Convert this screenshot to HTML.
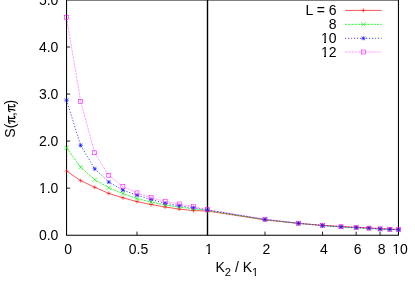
<!DOCTYPE html>
<html><head><meta charset="utf-8"><style>html,body{margin:0;padding:0;background:#fff;width:415px;height:291px;overflow:hidden}</style></head><body>
<svg width="415" height="291" viewBox="0 0 415 291" style="display:block;position:absolute;left:0;top:0;will-change:transform">
<rect width="415" height="291" fill="#fff"/>
<path d="M345 10.4H381.7" stroke="#ff0000" stroke-width="0.7" stroke-opacity="0.95" fill="none"/>
<path d="M361.40 10.40H365.40M363.40 8.40V12.40" stroke="#ff0000" stroke-width="0.6" fill="none"/>
<path d="M345 24.35H381.7" stroke="#00f000" stroke-width="0.85" stroke-opacity="0.9" fill="none" stroke-dasharray="2.3 0.9"/>
<path d="M361.10 22.05L365.70 26.65M361.10 26.65L365.70 22.05" stroke="#00f000" stroke-width="0.6" fill="none"/>
<path d="M345 38.3H381.7" stroke="#0000ff" stroke-width="0.95" stroke-opacity="0.75" fill="none" stroke-dasharray="1.2 1.8"/>
<path d="M361.60 36.50L365.20 40.10M361.60 40.10L365.20 36.50M361.30 38.30H365.50M363.40 36.20V40.40" stroke="#0000ff" stroke-width="0.6" fill="none"/>
<path d="M345 52.0H381.7" stroke="#ff00ff" stroke-width="0.9" stroke-opacity="0.42" fill="none" stroke-dasharray="2.4 0.9"/>
<rect x="361.40" y="50.00" width="4.00" height="4.00" stroke="#ff00ff" stroke-width="0.55" fill="none"/>
<path d="M66.55 188.15h3.6" stroke="#000" stroke-width="1" opacity="0.85"/>
<path d="M66.55 141.10h3.6" stroke="#000" stroke-width="1" opacity="0.85"/>
<path d="M66.55 94.05h3.6" stroke="#000" stroke-width="1" opacity="0.85"/>
<path d="M66.55 47.00h3.6" stroke="#000" stroke-width="1" opacity="0.85"/>
<path d="M136.98 235.2v-3.6" stroke="#000" stroke-width="1" opacity="0.85"/>
<path d="M264.96 235.2v-3.6" stroke="#000" stroke-width="1" opacity="0.85"/>
<path d="M322.51 235.2v-3.6" stroke="#000" stroke-width="1" opacity="0.85"/>
<path d="M356.18 235.2v-3.6" stroke="#000" stroke-width="1" opacity="0.85"/>
<path d="M380.07 235.2v-3.6" stroke="#000" stroke-width="1" opacity="0.85"/>
<path d="M66.55 0V235.2H398.45V0M66.55 -0.05H398.45" stroke="#000" stroke-width="1.05" fill="none" stroke-linecap="square"/>
<path d="M207.5 0V235.2" stroke="#000" stroke-width="1.4" fill="none"/>
<polyline points="66.55,171.00 80.64,180.60 94.72,187.30 108.81,193.40 122.89,197.80 136.98,201.60 151.06,204.50 165.15,207.00 179.23,209.10 193.32,210.60 207.40,211.00 264.96,219.90 298.63,223.45 322.51,225.35 341.04,226.47 356.18,227.27 368.98,227.87 380.07,228.57 389.85,228.97 398.60,229.32" fill="none" stroke="#ff0000" stroke-width="0.7" stroke-opacity="0.95"/>
<path d="M64.55 171.00H68.55M66.55 169.00V173.00" stroke="#ff0000" stroke-width="0.6" fill="none"/>
<path d="M78.64 180.60H82.64M80.64 178.60V182.60" stroke="#ff0000" stroke-width="0.6" fill="none"/>
<path d="M92.72 187.30H96.72M94.72 185.30V189.30" stroke="#ff0000" stroke-width="0.6" fill="none"/>
<path d="M106.81 193.40H110.81M108.81 191.40V195.40" stroke="#ff0000" stroke-width="0.6" fill="none"/>
<path d="M120.89 197.80H124.89M122.89 195.80V199.80" stroke="#ff0000" stroke-width="0.6" fill="none"/>
<path d="M134.98 201.60H138.98M136.98 199.60V203.60" stroke="#ff0000" stroke-width="0.6" fill="none"/>
<path d="M149.06 204.50H153.06M151.06 202.50V206.50" stroke="#ff0000" stroke-width="0.6" fill="none"/>
<path d="M163.15 207.00H167.15M165.15 205.00V209.00" stroke="#ff0000" stroke-width="0.6" fill="none"/>
<path d="M177.23 209.10H181.23M179.23 207.10V211.10" stroke="#ff0000" stroke-width="0.6" fill="none"/>
<path d="M191.32 210.60H195.32M193.32 208.60V212.60" stroke="#ff0000" stroke-width="0.6" fill="none"/>
<path d="M205.40 211.00H209.40M207.40 209.00V213.00" stroke="#ff0000" stroke-width="0.6" fill="none"/>
<path d="M262.96 219.90H266.96M264.96 217.90V221.90" stroke="#ff0000" stroke-width="0.6" fill="none"/>
<path d="M296.63 223.45H300.63M298.63 221.45V225.45" stroke="#ff0000" stroke-width="0.6" fill="none"/>
<path d="M320.51 225.35H324.51M322.51 223.35V227.35" stroke="#ff0000" stroke-width="0.6" fill="none"/>
<path d="M339.04 226.47H343.04M341.04 224.47V228.47" stroke="#ff0000" stroke-width="0.6" fill="none"/>
<path d="M354.18 227.27H358.18M356.18 225.27V229.27" stroke="#ff0000" stroke-width="0.6" fill="none"/>
<path d="M366.98 227.87H370.98M368.98 225.87V229.87" stroke="#ff0000" stroke-width="0.6" fill="none"/>
<path d="M378.07 228.57H382.07M380.07 226.57V230.57" stroke="#ff0000" stroke-width="0.6" fill="none"/>
<path d="M387.85 228.97H391.85M389.85 226.97V230.97" stroke="#ff0000" stroke-width="0.6" fill="none"/>
<path d="M396.60 229.32H400.60M398.60 227.32V231.32" stroke="#ff0000" stroke-width="0.6" fill="none"/>
<polyline points="66.55,147.80 80.64,167.20 94.72,179.70 108.81,187.70 122.89,193.60 136.98,198.60 151.06,202.00 165.15,205.00 179.23,207.00 193.32,208.90 207.40,210.40 264.96,219.60 298.63,223.40 322.51,225.65 341.04,227.13 356.18,227.93 368.98,228.53 380.07,229.23 389.85,229.63 398.60,229.98" fill="none" stroke="#00f000" stroke-width="0.85" stroke-opacity="0.9" stroke-dasharray="2.3 0.9"/>
<path d="M64.25 145.50L68.85 150.10M64.25 150.10L68.85 145.50" stroke="#00f000" stroke-width="0.6" fill="none"/>
<path d="M78.34 164.90L82.94 169.50M78.34 169.50L82.94 164.90" stroke="#00f000" stroke-width="0.6" fill="none"/>
<path d="M92.42 177.40L97.02 182.00M92.42 182.00L97.02 177.40" stroke="#00f000" stroke-width="0.6" fill="none"/>
<path d="M106.51 185.40L111.11 190.00M106.51 190.00L111.11 185.40" stroke="#00f000" stroke-width="0.6" fill="none"/>
<path d="M120.59 191.30L125.19 195.90M120.59 195.90L125.19 191.30" stroke="#00f000" stroke-width="0.6" fill="none"/>
<path d="M134.68 196.30L139.28 200.90M134.68 200.90L139.28 196.30" stroke="#00f000" stroke-width="0.6" fill="none"/>
<path d="M148.76 199.70L153.36 204.30M148.76 204.30L153.36 199.70" stroke="#00f000" stroke-width="0.6" fill="none"/>
<path d="M162.84 202.70L167.45 207.30M162.84 207.30L167.45 202.70" stroke="#00f000" stroke-width="0.6" fill="none"/>
<path d="M176.93 204.70L181.53 209.30M176.93 209.30L181.53 204.70" stroke="#00f000" stroke-width="0.6" fill="none"/>
<path d="M191.02 206.60L195.62 211.20M191.02 211.20L195.62 206.60" stroke="#00f000" stroke-width="0.6" fill="none"/>
<path d="M205.10 208.10L209.70 212.70M205.10 212.70L209.70 208.10" stroke="#00f000" stroke-width="0.6" fill="none"/>
<path d="M262.66 217.30L267.26 221.90M262.66 221.90L267.26 217.30" stroke="#00f000" stroke-width="0.6" fill="none"/>
<path d="M296.33 221.10L300.93 225.70M296.33 225.70L300.93 221.10" stroke="#00f000" stroke-width="0.6" fill="none"/>
<path d="M320.21 223.35L324.81 227.95M320.21 227.95L324.81 223.35" stroke="#00f000" stroke-width="0.6" fill="none"/>
<path d="M338.74 224.83L343.34 229.43M338.74 229.43L343.34 224.83" stroke="#00f000" stroke-width="0.6" fill="none"/>
<path d="M353.88 225.63L358.48 230.23M353.88 230.23L358.48 225.63" stroke="#00f000" stroke-width="0.6" fill="none"/>
<path d="M366.68 226.23L371.28 230.83M366.68 230.83L371.28 226.23" stroke="#00f000" stroke-width="0.6" fill="none"/>
<path d="M377.77 226.93L382.37 231.53M377.77 231.53L382.37 226.93" stroke="#00f000" stroke-width="0.6" fill="none"/>
<path d="M387.55 227.33L392.15 231.93M387.55 231.93L392.15 227.33" stroke="#00f000" stroke-width="0.6" fill="none"/>
<path d="M396.30 227.68L400.90 232.28M396.30 232.28L400.90 227.68" stroke="#00f000" stroke-width="0.6" fill="none"/>
<polyline points="66.55,100.20 80.64,145.40 94.72,168.80 108.81,182.10 122.89,190.10 136.98,195.20 151.06,199.50 165.15,203.20 179.23,205.70 193.32,207.80 207.40,210.00 264.96,219.40 298.63,223.30 322.51,225.50 341.04,226.80 356.18,227.60 368.98,228.20 380.07,228.90 389.85,229.30 398.60,229.65" fill="none" stroke="#0000ff" stroke-width="0.95" stroke-opacity="0.75" stroke-dasharray="1.2 1.8"/>
<path d="M64.75 98.40L68.35 102.00M64.75 102.00L68.35 98.40M64.45 100.20H68.65M66.55 98.10V102.30" stroke="#0000ff" stroke-width="0.6" fill="none"/>
<path d="M78.84 143.60L82.44 147.20M78.84 147.20L82.44 143.60M78.54 145.40H82.73M80.64 143.30V147.50" stroke="#0000ff" stroke-width="0.6" fill="none"/>
<path d="M92.92 167.00L96.52 170.60M92.92 170.60L96.52 167.00M92.62 168.80H96.82M94.72 166.70V170.90" stroke="#0000ff" stroke-width="0.6" fill="none"/>
<path d="M107.01 180.30L110.61 183.90M107.01 183.90L110.61 180.30M106.71 182.10H110.91M108.81 180.00V184.20" stroke="#0000ff" stroke-width="0.6" fill="none"/>
<path d="M121.09 188.30L124.69 191.90M121.09 191.90L124.69 188.30M120.79 190.10H124.99M122.89 188.00V192.20" stroke="#0000ff" stroke-width="0.6" fill="none"/>
<path d="M135.18 193.40L138.78 197.00M135.18 197.00L138.78 193.40M134.88 195.20H139.08M136.98 193.10V197.30" stroke="#0000ff" stroke-width="0.6" fill="none"/>
<path d="M149.26 197.70L152.86 201.30M149.26 201.30L152.86 197.70M148.96 199.50H153.16M151.06 197.40V201.60" stroke="#0000ff" stroke-width="0.6" fill="none"/>
<path d="M163.34 201.40L166.95 205.00M163.34 205.00L166.95 201.40M163.05 203.20H167.25M165.15 201.10V205.30" stroke="#0000ff" stroke-width="0.6" fill="none"/>
<path d="M177.43 203.90L181.03 207.50M177.43 207.50L181.03 203.90M177.13 205.70H181.33M179.23 203.60V207.80" stroke="#0000ff" stroke-width="0.6" fill="none"/>
<path d="M191.52 206.00L195.12 209.60M191.52 209.60L195.12 206.00M191.22 207.80H195.42M193.32 205.70V209.90" stroke="#0000ff" stroke-width="0.6" fill="none"/>
<path d="M205.60 208.20L209.20 211.80M205.60 211.80L209.20 208.20M205.30 210.00H209.50M207.40 207.90V212.10" stroke="#0000ff" stroke-width="0.6" fill="none"/>
<path d="M263.16 217.60L266.76 221.20M263.16 221.20L266.76 217.60M262.86 219.40H267.06M264.96 217.30V221.50" stroke="#0000ff" stroke-width="0.6" fill="none"/>
<path d="M296.83 221.50L300.43 225.10M296.83 225.10L300.43 221.50M296.53 223.30H300.73M298.63 221.20V225.40" stroke="#0000ff" stroke-width="0.6" fill="none"/>
<path d="M320.71 223.70L324.31 227.30M320.71 227.30L324.31 223.70M320.41 225.50H324.61M322.51 223.40V227.60" stroke="#0000ff" stroke-width="0.6" fill="none"/>
<path d="M339.24 225.00L342.84 228.60M339.24 228.60L342.84 225.00M338.94 226.80H343.14M341.04 224.70V228.90" stroke="#0000ff" stroke-width="0.6" fill="none"/>
<path d="M354.38 225.80L357.98 229.40M354.38 229.40L357.98 225.80M354.08 227.60H358.28M356.18 225.50V229.70" stroke="#0000ff" stroke-width="0.6" fill="none"/>
<path d="M367.18 226.40L370.78 230.00M367.18 230.00L370.78 226.40M366.88 228.20H371.08M368.98 226.10V230.30" stroke="#0000ff" stroke-width="0.6" fill="none"/>
<path d="M378.27 227.10L381.87 230.70M378.27 230.70L381.87 227.10M377.97 228.90H382.17M380.07 226.80V231.00" stroke="#0000ff" stroke-width="0.6" fill="none"/>
<path d="M388.05 227.50L391.65 231.10M388.05 231.10L391.65 227.50M387.75 229.30H391.95M389.85 227.20V231.40" stroke="#0000ff" stroke-width="0.6" fill="none"/>
<path d="M396.80 227.85L400.40 231.45M396.80 231.45L400.40 227.85M396.50 229.65H400.70M398.60 227.55V231.75" stroke="#0000ff" stroke-width="0.6" fill="none"/>
<polyline points="66.55,17.50 80.64,101.40 94.72,152.80 108.81,175.50 122.89,186.50 136.98,192.90 151.06,197.60 165.15,201.50 179.23,204.00 193.32,206.60 207.40,209.70 264.96,219.20 298.63,223.20 322.51,225.45 341.04,226.75 356.18,227.55 368.98,228.15 380.07,228.85 389.85,229.25 398.60,229.60" fill="none" stroke="#ff00ff" stroke-width="0.9" stroke-opacity="0.42" stroke-dasharray="2.4 0.9"/>
<rect x="64.55" y="15.50" width="4.00" height="4.00" stroke="#ff00ff" stroke-width="0.55" fill="none"/>
<rect x="78.64" y="99.40" width="4.00" height="4.00" stroke="#ff00ff" stroke-width="0.55" fill="none"/>
<rect x="92.72" y="150.80" width="4.00" height="4.00" stroke="#ff00ff" stroke-width="0.55" fill="none"/>
<rect x="106.81" y="173.50" width="4.00" height="4.00" stroke="#ff00ff" stroke-width="0.55" fill="none"/>
<rect x="120.89" y="184.50" width="4.00" height="4.00" stroke="#ff00ff" stroke-width="0.55" fill="none"/>
<rect x="134.98" y="190.90" width="4.00" height="4.00" stroke="#ff00ff" stroke-width="0.55" fill="none"/>
<rect x="149.06" y="195.60" width="4.00" height="4.00" stroke="#ff00ff" stroke-width="0.55" fill="none"/>
<rect x="163.15" y="199.50" width="4.00" height="4.00" stroke="#ff00ff" stroke-width="0.55" fill="none"/>
<rect x="177.23" y="202.00" width="4.00" height="4.00" stroke="#ff00ff" stroke-width="0.55" fill="none"/>
<rect x="191.32" y="204.60" width="4.00" height="4.00" stroke="#ff00ff" stroke-width="0.55" fill="none"/>
<rect x="205.40" y="207.70" width="4.00" height="4.00" stroke="#ff00ff" stroke-width="0.55" fill="none"/>
<rect x="262.96" y="217.20" width="4.00" height="4.00" stroke="#ff00ff" stroke-width="0.55" fill="none"/>
<rect x="296.63" y="221.20" width="4.00" height="4.00" stroke="#ff00ff" stroke-width="0.55" fill="none"/>
<rect x="320.51" y="223.45" width="4.00" height="4.00" stroke="#ff00ff" stroke-width="0.55" fill="none"/>
<rect x="339.04" y="224.75" width="4.00" height="4.00" stroke="#ff00ff" stroke-width="0.55" fill="none"/>
<rect x="354.18" y="225.55" width="4.00" height="4.00" stroke="#ff00ff" stroke-width="0.55" fill="none"/>
<rect x="366.98" y="226.15" width="4.00" height="4.00" stroke="#ff00ff" stroke-width="0.55" fill="none"/>
<rect x="378.07" y="226.85" width="4.00" height="4.00" stroke="#ff00ff" stroke-width="0.55" fill="none"/>
<rect x="387.85" y="227.25" width="4.00" height="4.00" stroke="#ff00ff" stroke-width="0.55" fill="none"/>
<rect x="396.60" y="227.60" width="4.00" height="4.00" stroke="#ff00ff" stroke-width="0.55" fill="none"/>
<text x="58.4" y="240" text-anchor="end" font-family="Liberation Sans, sans-serif" font-size="14" fill="#000">0.0</text>
<text x="58.4" y="193" text-anchor="end" font-family="Liberation Sans, sans-serif" font-size="14" fill="#000">1.0</text>
<text x="58.4" y="146" text-anchor="end" font-family="Liberation Sans, sans-serif" font-size="14" fill="#000">2.0</text>
<text x="58.4" y="99" text-anchor="end" font-family="Liberation Sans, sans-serif" font-size="14" fill="#000">3.0</text>
<text x="58.4" y="52" text-anchor="end" font-family="Liberation Sans, sans-serif" font-size="14" fill="#000">4.0</text>
<text x="58.4" y="5" text-anchor="end" font-family="Liberation Sans, sans-serif" font-size="14" fill="#000">5.0</text>
<text x="68.05" y="254" text-anchor="middle" font-family="Liberation Sans, sans-serif" font-size="14" fill="#000">0</text>
<text x="138.48" y="254" text-anchor="middle" font-family="Liberation Sans, sans-serif" font-size="14" fill="#000">0.5</text>
<text x="208.90" y="254" text-anchor="middle" font-family="Liberation Sans, sans-serif" font-size="14" fill="#000">1</text>
<text x="266.46" y="254" text-anchor="middle" font-family="Liberation Sans, sans-serif" font-size="14" fill="#000">2</text>
<text x="324.01" y="254" text-anchor="middle" font-family="Liberation Sans, sans-serif" font-size="14" fill="#000">4</text>
<text x="357.68" y="254" text-anchor="middle" font-family="Liberation Sans, sans-serif" font-size="14" fill="#000">6</text>
<text x="381.57" y="254" text-anchor="middle" font-family="Liberation Sans, sans-serif" font-size="14" fill="#000">8</text>
<text x="400.10" y="254" text-anchor="middle" font-family="Liberation Sans, sans-serif" font-size="14" fill="#000">10</text>
<text x="336.5" y="15" text-anchor="end" font-family="Liberation Sans, sans-serif" font-size="14" fill="#000">L = 6</text>
<text x="336.5" y="29" text-anchor="end" font-family="Liberation Sans, sans-serif" font-size="14" fill="#000">8</text>
<text x="336.5" y="43" text-anchor="end" font-family="Liberation Sans, sans-serif" font-size="14" fill="#000">10</text>
<text x="336.5" y="57" text-anchor="end" font-family="Liberation Sans, sans-serif" font-size="14" fill="#000">12</text>
<g transform="translate(15.0,137.65) rotate(-90)"><text x="0" y="0" font-family="Liberation Sans, sans-serif" font-size="14" fill="#000">S(</text><g transform="translate(14.0,0)"><path d="M0.3 -5.0C0.7 -6.2 1.4 -6.45 2.4 -6.45L7.5 -6.45" fill="none" stroke="#000" stroke-width="1.15" stroke-linecap="round"/><path d="M2.75 -6.3C2.7 -3.6 2.5 -1.4 1.8 -0.1M5.35 -6.3L5.3 -1.5C5.3 -0.3 5.9 0.15 6.6 -0.1C7.1 -0.3 7.4 -0.7 7.5 -1.0" fill="none" stroke="#000" stroke-width="1.2" stroke-linecap="round" stroke-linejoin="round"/></g><text x="21.69" y="0" font-family="Liberation Sans, sans-serif" font-size="14" fill="#000">,</text><g transform="translate(25.58,0)"><path d="M0.3 -5.0C0.7 -6.2 1.4 -6.45 2.4 -6.45L7.5 -6.45" fill="none" stroke="#000" stroke-width="1.15" stroke-linecap="round"/><path d="M2.75 -6.3C2.7 -3.6 2.5 -1.4 1.8 -0.1M5.35 -6.3L5.3 -1.5C5.3 -0.3 5.9 0.15 6.6 -0.1C7.1 -0.3 7.4 -0.7 7.5 -1.0" fill="none" stroke="#000" stroke-width="1.2" stroke-linecap="round" stroke-linejoin="round"/></g><text x="33.27" y="0" font-family="Liberation Sans, sans-serif" font-size="14" fill="#000">)</text></g>
<text x="215.5" y="272" font-family="Liberation Sans, sans-serif" font-size="14" fill="#000">K<tspan font-size="11.2" dy="4.2">2</tspan><tspan dy="-4.2"> / K</tspan><tspan font-size="11.2" dy="4.2">1</tspan></text>
<g id="mk"><rect x="40" y="192" width="2" height="1" fill="#fff"/><rect x="44" y="192" width="3" height="1" fill="#fff"/><rect x="206" y="253" width="2" height="1" fill="#fff"/><rect x="210" y="253" width="3" height="1" fill="#fff"/><rect x="393" y="253" width="3" height="1" fill="#fff"/><rect x="397" y="253" width="4" height="1" fill="#fff"/><rect x="322" y="42" width="2" height="1" fill="#fff"/><rect x="326" y="42" width="3" height="1" fill="#fff"/><rect x="322" y="56" width="2" height="1" fill="#fff"/><rect x="326" y="56" width="3" height="1" fill="#fff"/><rect x="252" y="275" width="3" height="1" fill="#fff"/><rect x="256" y="275" width="3" height="1" fill="#fff"/></g>
</svg>
</body></html>
